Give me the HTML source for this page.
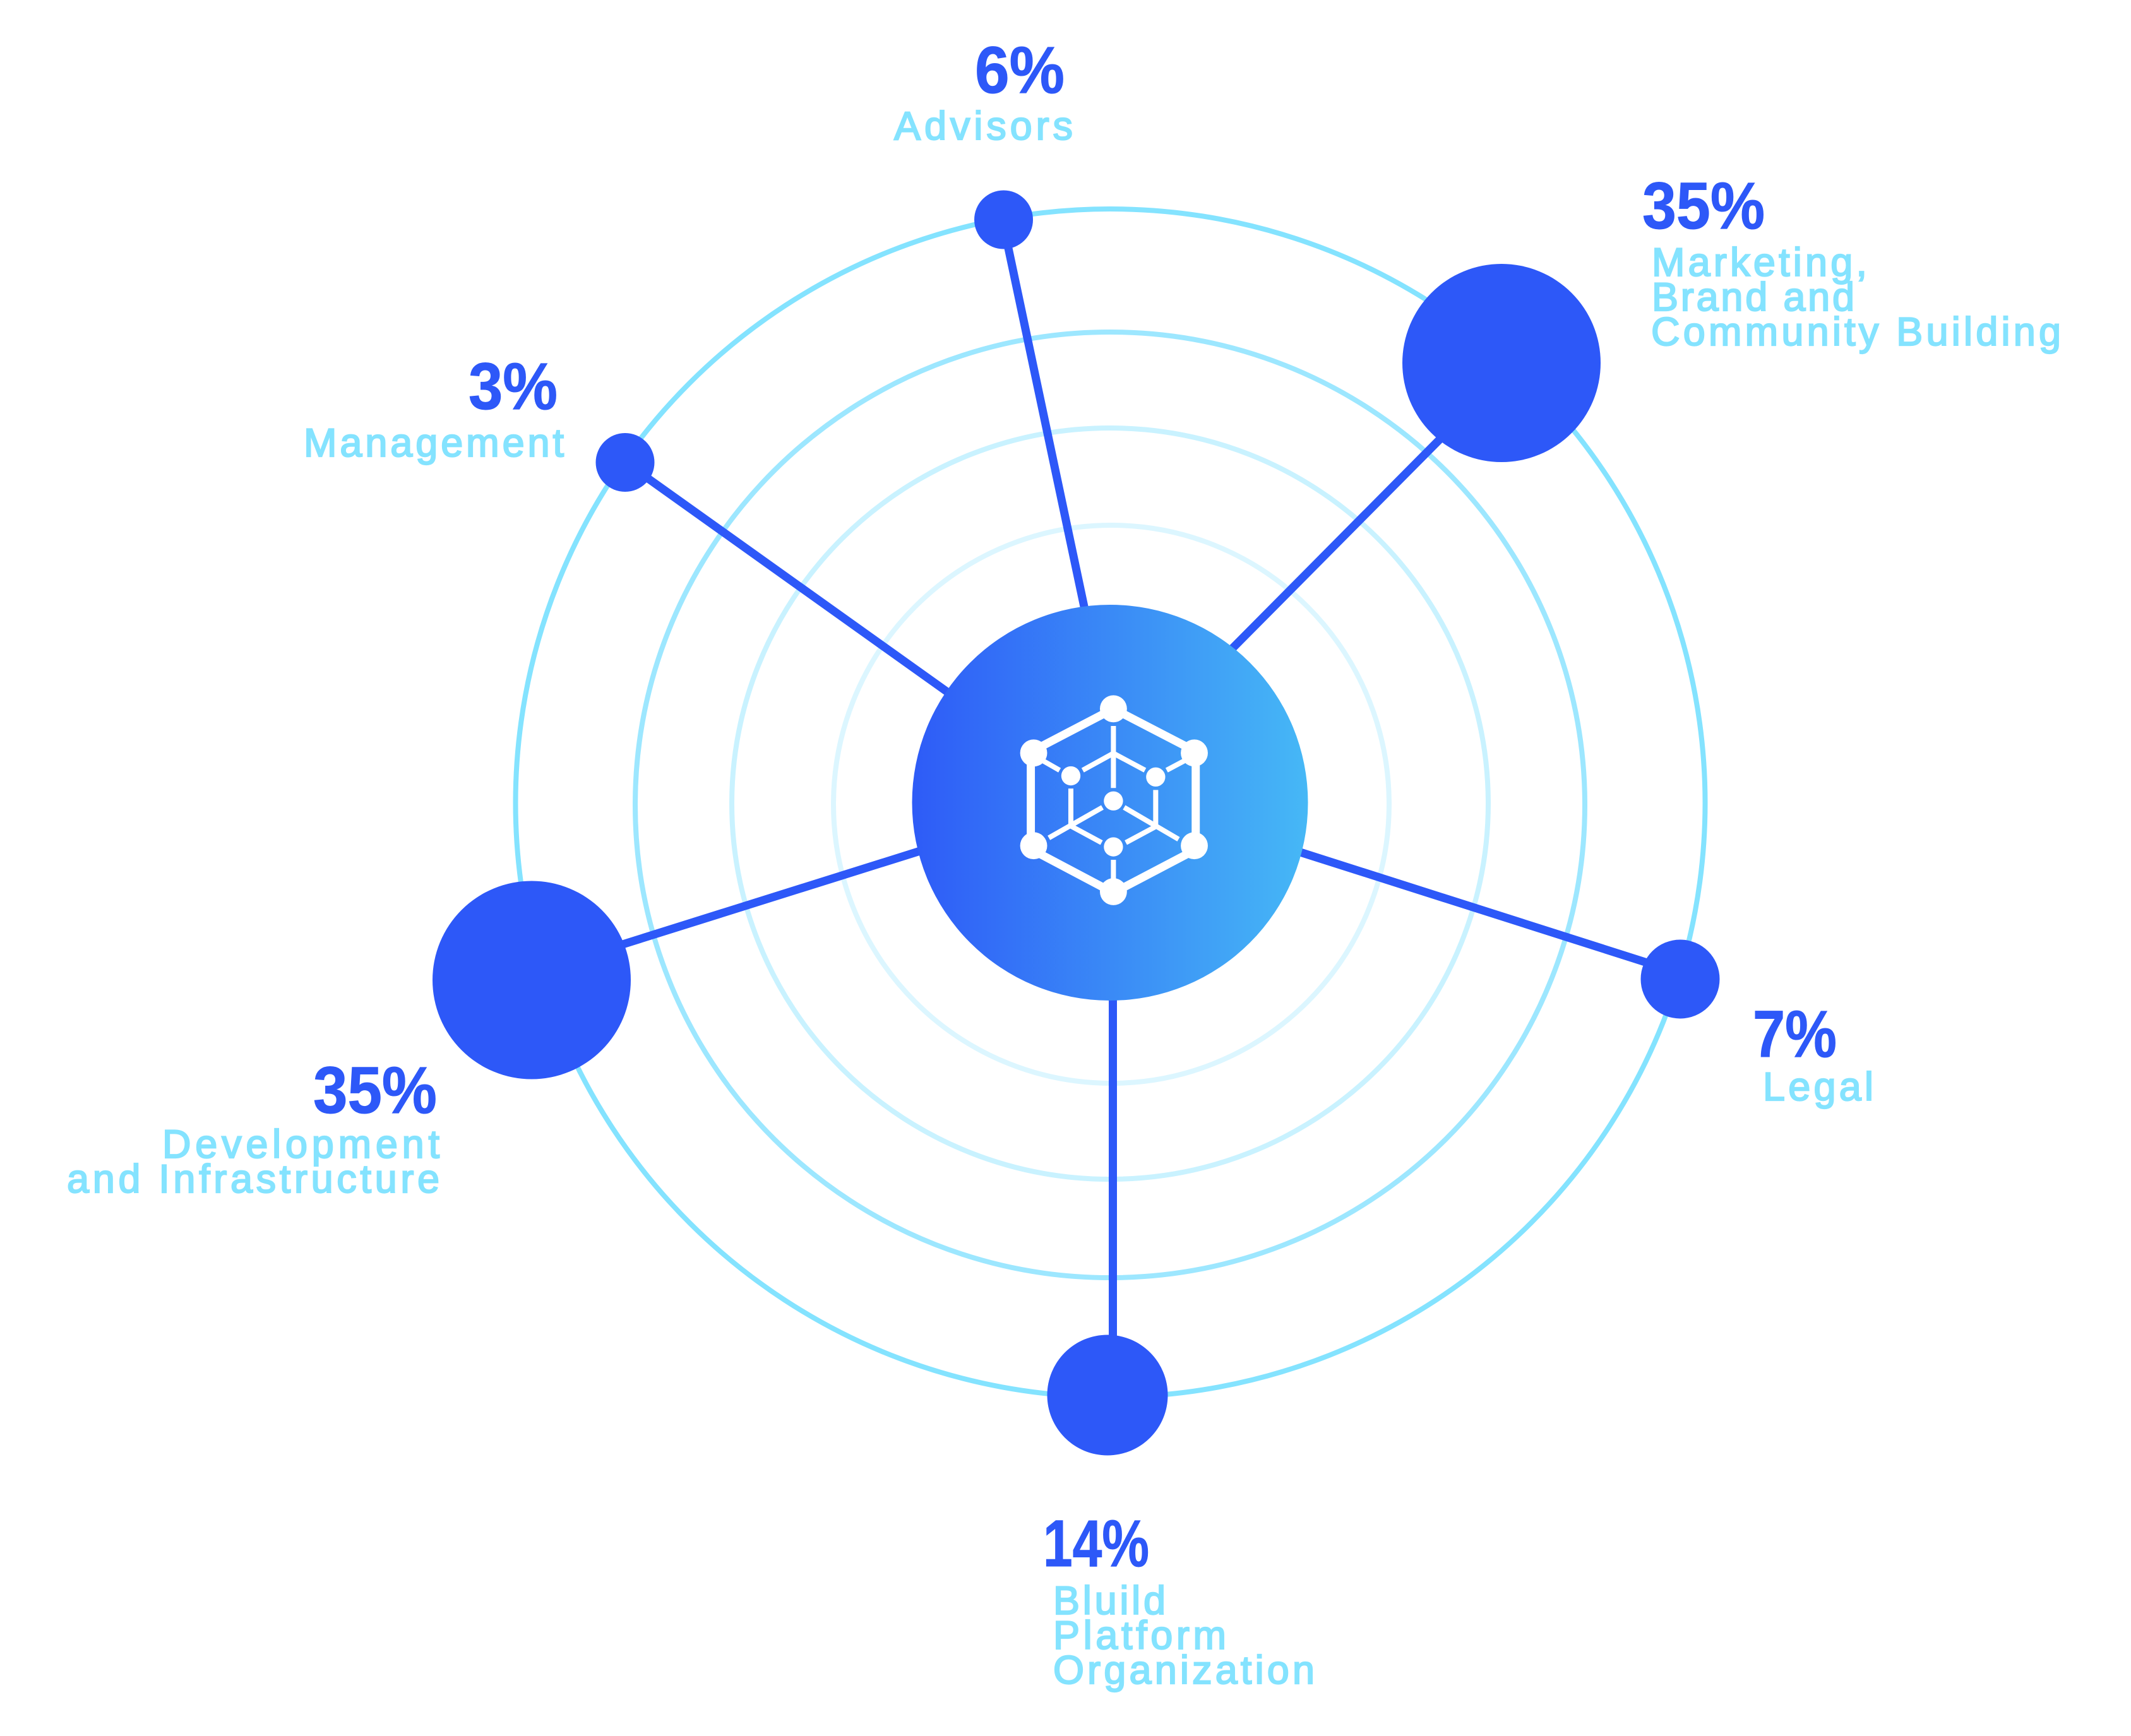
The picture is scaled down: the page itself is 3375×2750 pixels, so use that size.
<!DOCTYPE html>
<html><head><meta charset="utf-8"><style>
html,body{margin:0;padding:0;background:#fff;width:3375px;height:2750px;overflow:hidden}
svg{display:block}
.p{font-family:"Liberation Sans",sans-serif;font-weight:700;font-size:105px;fill:#2d58f8;stroke:#2d58f8;stroke-width:1}
.l{font-family:"Liberation Sans",sans-serif;font-size:63px;fill:#84e3ff;stroke:#84e3ff;stroke-width:2.2}
</style></head><body>
<svg width="3375" height="2750" viewBox="0 0 3375 2750" xmlns="http://www.w3.org/2000/svg">
<defs><linearGradient id="g" x1="0" x2="1" y1="0" y2="0"><stop offset="0" stop-color="#2e5bf7"/><stop offset="1" stop-color="#46b8f6"/></linearGradient></defs>
<rect width="3375" height="2750" fill="#fff"/>
<g fill="none" stroke-width="8">
<ellipse cx="1758.5" cy="1272" rx="942" ry="941" stroke="#84e3ff"/>
<ellipse cx="1758" cy="1275" rx="752" ry="749" stroke="#9de7ff"/>
<ellipse cx="1758" cy="1273" rx="599" ry="595" stroke="#c9f2ff"/>
<ellipse cx="1760" cy="1274" rx="440" ry="442" stroke="#dcf6ff"/>
</g>
<g stroke="#2d58f8" stroke-width="13" fill="none">
<line x1="1590" y1="360" x2="1720" y2="975"/>
<line x1="2300" y1="676" x2="1940" y2="1039"/>
<line x1="990" y1="732" x2="1510" y2="1103"/>
<line x1="900" y1="1523" x2="1470" y2="1344"/>
<line x1="2050" y1="1347" x2="2640" y2="1535"/>
<line x1="1762.5" y1="1570" x2="1762.5" y2="2130"/>
</g>
<g fill="#2d58f8">
<circle cx="1589.5" cy="348" r="46.5"/>
<circle cx="990" cy="732.5" r="46.5"/>
<circle cx="2378" cy="575" r="157"/>
<circle cx="842" cy="1552.5" r="157"/>
<circle cx="2661" cy="1551" r="62.5"/>
<circle cx="1754" cy="2210" r="95.5"/>
</g>
<circle cx="1758" cy="1271.5" r="313.5" fill="url(#g)"/>
<g transform="translate(1400,950) scale(0.44643)">
<g stroke="#fff" fill="none" stroke-width="29">
<line x1="540" y1="530" x2="814" y2="387"/>
<line x1="814" y1="387" x2="1090" y2="530"/>
<line x1="521" y1="560" x2="521" y2="860"/>
<line x1="1106" y1="560" x2="1106" y2="860"/>
<line x1="540" y1="895" x2="814" y2="1040"/>
<line x1="814" y1="1040" x2="1090" y2="895"/>
</g>
<g stroke="#fff" fill="none" stroke-width="18">
<line x1="814" y1="448" x2="814" y2="668"/>
<line x1="814" y1="545" x2="705" y2="605"/>
<line x1="814" y1="545" x2="926" y2="605"/>
<line x1="565" y1="572" x2="623" y2="605"/>
<line x1="1065" y1="572" x2="1003" y2="605"/>
<line x1="663" y1="670" x2="663" y2="805"/>
<line x1="964" y1="675" x2="964" y2="805"/>
<line x1="585" y1="845" x2="775" y2="737"/>
<line x1="663" y1="803" x2="772" y2="862"/>
<line x1="1045" y1="850" x2="852" y2="737"/>
<line x1="964" y1="805" x2="858" y2="862"/>
<line x1="814" y1="923" x2="814" y2="1000"/>
</g>
<g fill="#fff">
<circle cx="814" cy="387" r="48"/><circle cx="531" cy="544" r="48"/><circle cx="1101" cy="544" r="48"/>
<circle cx="531" cy="873" r="48"/><circle cx="1101" cy="873" r="48"/><circle cx="814" cy="1036" r="48"/>
<circle cx="663" cy="625" r="34"/><circle cx="964" cy="629" r="34"/><circle cx="814" cy="714" r="34"/><circle cx="814" cy="877" r="34"/>
</g>
</g>
<text class="p" x="1544" y="147" textLength="142" lengthAdjust="spacingAndGlyphs">6%</text>
<text class="l" x="1416" y="221" textLength="283" lengthAdjust="spacing">Advisors</text>
<text class="p" x="742" y="648" textLength="141" lengthAdjust="spacingAndGlyphs">3%</text>
<text class="l" x="481" y="723" textLength="412" lengthAdjust="spacing">Management</text>
<text class="p" x="2601" y="362" textLength="194" lengthAdjust="spacingAndGlyphs">35%</text>
<text class="l" x="2616" y="437" textLength="341" lengthAdjust="spacing">Marketing,</text>
<text class="l" x="2616" y="492" textLength="321" lengthAdjust="spacing">Brand and</text>
<text class="l" x="2615" y="547" textLength="649" lengthAdjust="spacing">Community Building</text>
<text class="p" x="496" y="1763" textLength="196" lengthAdjust="spacingAndGlyphs">35%</text>
<text class="l" x="257" y="1834" textLength="439" lengthAdjust="spacing">Development</text>
<text class="l" x="106" y="1889" textLength="590" lengthAdjust="spacing">and Infrastructure</text>
<text class="p" x="2776" y="1674" textLength="133" lengthAdjust="spacingAndGlyphs">7%</text>
<text class="l" x="2792" y="1743" textLength="175" lengthAdjust="spacing">Legal</text>
<text class="p" x="1652" y="2481" textLength="168" lengthAdjust="spacingAndGlyphs">14%</text>
<text class="l" x="1668" y="2557" textLength="178" lengthAdjust="spacing">Bluild</text>
<text class="l" x="1668" y="2612" textLength="274" lengthAdjust="spacing">Platform</text>
<text class="l" x="1668" y="2667" textLength="414" lengthAdjust="spacing">Organization</text>
</svg>
</body></html>
